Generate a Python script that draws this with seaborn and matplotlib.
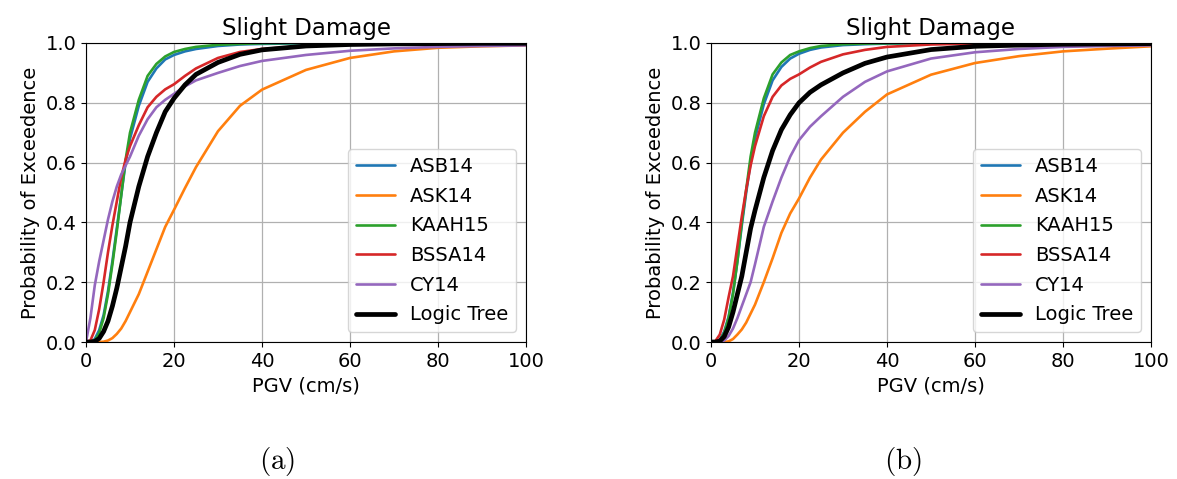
import numpy as np
import pandas as pd
import seaborn as sns
import matplotlib.pyplot as plt

sns.set_style("ticks", rc={"axes.edgecolor": "black", "xtick.color": "black",
                           "ytick.color": "black", "text.color": "black",
                           "axes.labelcolor": "black"})
plt.rcParams["font.family"] = ["DejaVu Sans"]
plt.rcParams["font.size"] = 14
plt.rcParams["mathtext.fontset"] = "cm"

# PGV grid (cm/s) the curves were read at
pgv = [0, 1, 2, 3, 4, 5, 6, 7, 8, 9, 10, 12, 14, 16, 18, 20, 22.5, 25,
       30, 35, 40, 50, 60, 70, 80, 90, 100]

models = ["ASB14", "ASK14", "KAAH15", "BSSA14", "CY14", "Logic Tree"]
colors = ["#1f77b4", "#ff7f0e", "#2ca02c", "#d62728", "#9467bd", "black"]

# panel (a)
asb14_a = [0, 0, 0.01, 0.04, 0.09, 0.17, 0.27, 0.38, 0.49, 0.60, 0.68, 0.79, 0.87, 0.915,
           0.945, 0.96, 0.972, 0.98, 0.99, 0.995, 0.997, 0.999, 1.0, 1.0, 1.0, 1.0, 1.0]
ask14_a = [0, 0, 0, 0, 0.001, 0.005, 0.013, 0.027, 0.045, 0.07, 0.10, 0.16, 0.235, 0.31,
           0.385, 0.442, 0.515, 0.585, 0.705, 0.79, 0.844, 0.91, 0.95, 0.972, 0.984, 0.989, 0.992]
kaah15_a = [0, 0, 0.005, 0.03, 0.08, 0.16, 0.26, 0.37, 0.49, 0.61, 0.70, 0.81, 0.89, 0.93,
            0.955, 0.97, 0.98, 0.987, 0.994, 0.997, 0.999, 1.0, 1.0, 1.0, 1.0, 1.0, 1.0]
bssa14_a = [0, 0.005, 0.04, 0.11, 0.20, 0.30, 0.39, 0.47, 0.55, 0.61, 0.655, 0.725, 0.785, 0.82,
            0.845, 0.862, 0.89, 0.915, 0.95, 0.97, 0.98, 0.99, 0.995, 0.997, 0.998, 0.999, 0.999]
cy14_a = [0, 0.08, 0.19, 0.27, 0.34, 0.41, 0.47, 0.52, 0.56, 0.59, 0.62, 0.69, 0.745, 0.785,
          0.81, 0.83, 0.855, 0.875, 0.90, 0.923, 0.94, 0.96, 0.974, 0.982, 0.987, 0.99, 0.992]
lt_a = [0, 0, 0.002, 0.012, 0.035, 0.07, 0.12, 0.18, 0.25, 0.32, 0.40, 0.52, 0.62, 0.70,
        0.77, 0.815, 0.86, 0.895, 0.935, 0.962, 0.977, 0.99, 0.995, 0.997, 0.998, 0.999, 0.999]

# panel (b)
asb14_b = [0, 0, 0.008, 0.035, 0.085, 0.165, 0.27, 0.39, 0.50, 0.60, 0.68, 0.795, 0.875, 0.92,
           0.948, 0.964, 0.977, 0.985, 0.993, 0.996, 0.998, 0.999, 1.0, 1.0, 1.0, 1.0, 1.0]
ask14_b = [0, 0, 0, 0, 0.002, 0.01, 0.025, 0.042, 0.065, 0.095, 0.125, 0.20, 0.28, 0.365,
           0.43, 0.48, 0.55, 0.61, 0.70, 0.77, 0.828, 0.894, 0.933, 0.956, 0.972, 0.981, 0.989]
kaah15_b = [0, 0, 0.005, 0.03, 0.08, 0.16, 0.27, 0.40, 0.51, 0.62, 0.70, 0.815, 0.895, 0.935,
            0.96, 0.972, 0.983, 0.99, 0.996, 0.998, 0.999, 1.0, 1.0, 1.0, 1.0, 1.0, 1.0]
bssa14_b = [0, 0.003, 0.025, 0.075, 0.15, 0.22, 0.32, 0.42, 0.51, 0.59, 0.655, 0.755, 0.82, 0.858,
            0.88, 0.895, 0.918, 0.937, 0.962, 0.977, 0.987, 0.995, 0.998, 0.999, 1.0, 1.0, 1.0]
cy14_b = [0, 0, 0, 0.005, 0.02, 0.045, 0.08, 0.12, 0.16, 0.20, 0.26, 0.385, 0.47, 0.55,
          0.62, 0.675, 0.72, 0.755, 0.82, 0.87, 0.905, 0.948, 0.969, 0.98, 0.987, 0.99, 0.992]
lt_b = [0, 0, 0.003, 0.018, 0.05, 0.10, 0.16, 0.22, 0.30, 0.38, 0.44, 0.55, 0.64, 0.71,
        0.76, 0.80, 0.835, 0.86, 0.90, 0.932, 0.953, 0.978, 0.989, 0.993, 0.996, 0.997, 0.998]

panels = [[asb14_a, ask14_a, kaah15_a, bssa14_a, cy14_a, lt_a],
          [asb14_b, ask14_b, kaah15_b, bssa14_b, cy14_b, lt_b]]
tags = [r"$\mathrm{(a)}$", r"$\mathrm{(b)}$"]

fig = plt.figure(figsize=(11.77, 4.79), dpi=100)
lefts = [86 / 1177, 711 / 1177]
tag_x = [277 / 1177, 903 / 1177]

for i, curves in enumerate(panels):
    ax = fig.add_axes([lefts[i], 137 / 479, 440 / 1177, 299 / 479])
    for name, vals, c in zip(models, curves, colors):
        lw = 3.4 if name == "Logic Tree" else 1.9
        sns.lineplot(x=pgv, y=vals, ax=ax, color=c, lw=lw, label=name)
    ax.set_xlim(0, 100)
    ax.set_ylim(0, 1)
    ax.set_xticks([0, 20, 40, 60, 80, 100])
    ax.set_yticks([0, 0.2, 0.4, 0.6, 0.8, 1.0])
    ax.grid(True, color="#b0b0b0", lw=0.9)
    ax.set_xlabel("PGV (cm/s)")
    ax.set_ylabel("Probability of Exceedence")
    ax.set_title("Slight Damage", fontsize=16.5)
    ax.legend(loc="lower right", fontsize=14, labelspacing=0.55)
    fig.text(tag_x[i], 1 - 462 / 479, tags[i], fontsize=21, ha="center", va="center")

fig.savefig("out.png", dpi=100)
